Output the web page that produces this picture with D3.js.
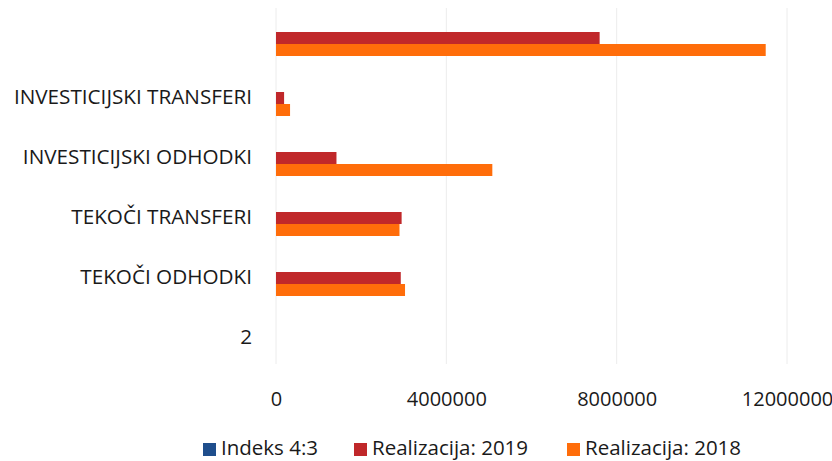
<!DOCTYPE html>
<html><head><meta charset="utf-8">
<script src="https://cdn.jsdelivr.net/npm/d3@7/dist/d3.min.js"></script>
<style>html,body{margin:0;padding:0;background:#fff;}svg{display:block;}</style>
</head><body><svg id="c" width="832" height="461"></svg>
<script>
const categories = ["", "INVESTICIJSKI TRANSFERI", "INVESTICIJSKI ODHODKI", "TEKOČI TRANSFERI", "TEKOČI ODHODKI", "2"];
const seriesNames = ["Indeks 4:3", "Realizacija: 2019", "Realizacija: 2018"];
const indeks = [66, 58, 28, 101, 97, 0];
const real2019 = [7600000, 190000, 1420000, 2950000, 2930000, 0];
const real2018 = [11500000, 330000, 5080000, 2900000, 3030000, 0];
const xTicks = [0, 4000000, 8000000, 12000000];
const colors = ["#1F4E8C", "#C0282A", "#FF6D0A"];

const svg = d3.select("#c");
const font = "'Open Sans', sans-serif";
const x = d3.scaleLinear().domain([0, 12000000]).range([276, 787]);
const y = d3.scaleBand().domain(categories).range([8, 368]).paddingInner(0).paddingOuter(0);
const ys = d3.scaleBand().domain(seriesNames).range([y.bandwidth()*0.2, y.bandwidth()*0.8]);

// gridlines
svg.append("g").selectAll("line").data(xTicks).join("line")
  .attr("x1", d => x(d)).attr("x2", d => x(d))
  .attr("y1", 8).attr("y2", 364)
  .attr("stroke", "#ececec").attr("stroke-width", 1);

const series = [indeks, real2019, real2018];
series.forEach((vals, si) => {
  svg.append("g").selectAll("rect").data(categories).join("rect")
    .attr("x", x(0))
    .attr("y", c => y(c) + ys(seriesNames[si]))
    .attr("width", (c, i) => x(vals[i]) - x(0))
    .attr("height", ys.bandwidth())
    .attr("fill", colors[si]);
});

// category labels
svg.append("g").selectAll("text").data(categories).join("text")
  .attr("x", 252).attr("y", c => y(c) + y.bandwidth()/2 - 2)
  .attr("text-anchor", "end").attr("dominant-baseline", "central")
  .attr("font-family", font).attr("font-size", 20.7).attr("fill", "#1a1a1a")
  .text(c => c);

// x tick labels
const xAxis = d3.axisBottom(x).tickValues(xTicks).tickFormat(d3.format("d")).tickSize(0).tickPadding(0);
const ga = svg.append("g").attr("transform", "translate(0,392)").call(xAxis);
ga.select(".domain").remove();
ga.selectAll("text").attr("font-family", font).attr("font-size", 20).attr("fill", "#1a1a1a");

// legend
const lx = [203, 354, 567];
const lg = svg.append("g");
seriesNames.forEach((n, i) => {
  lg.append("rect").attr("x", lx[i]).attr("y", 443).attr("width", 13).attr("height", 13).attr("fill", colors[i]);
  lg.append("text").attr("x", lx[i] + 18).attr("y", 455).attr("font-family", font).attr("font-size", 20.5).attr("fill", "#1a1a1a").text(n);
});
</script></body></html>
